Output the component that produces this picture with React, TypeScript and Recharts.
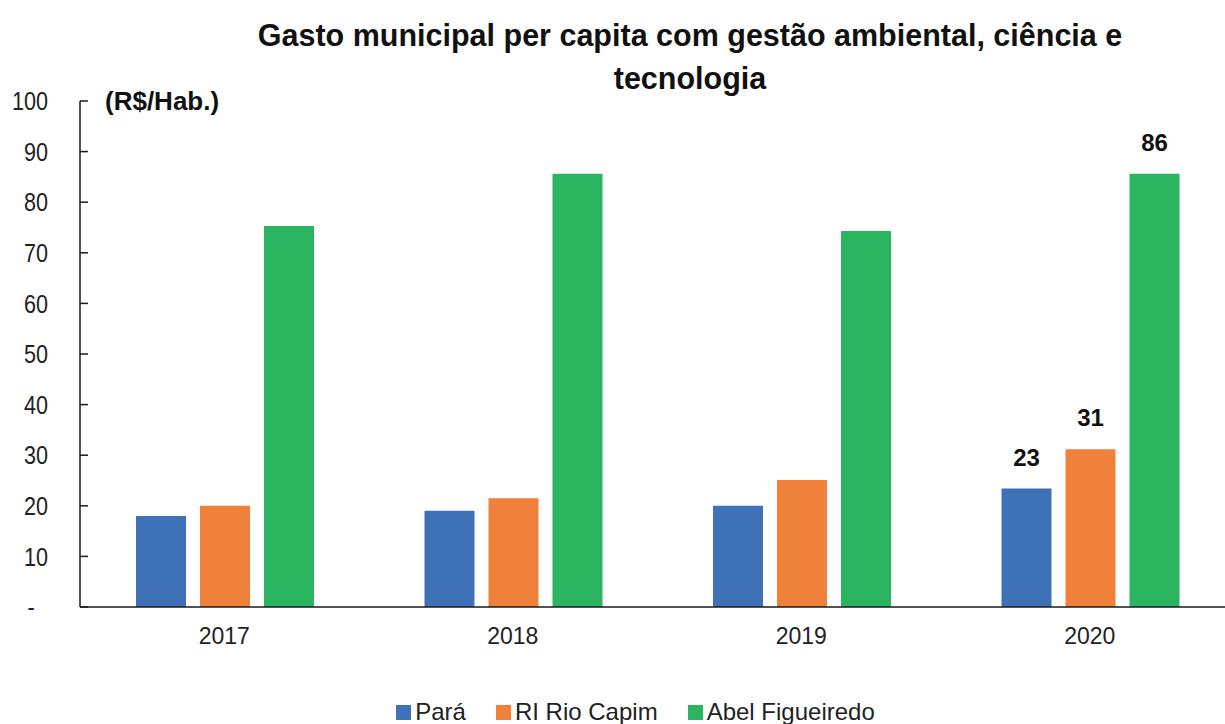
import * as React from "react"
import { BarChart, Bar, XAxis, YAxis, Legend, LabelList } from "recharts"

const years = ["2017", "2018", "2019", "2020"]
const para = [18.0, 19.0, 20.0, 23.4]
const rioCapim = [20.0, 21.5, 25.1, 31.2]
const abel = [75.3, 85.6, 74.3, 85.6]
// only the last year carries a value label
const labelYears = ["2020"]
const yTicks = [0, 10, 20, 30, 40, 50, 60, 70, 80, 90, 100]
const gridTicks = [1, 2, 3]

const series = [
  { key: "para", name: "Pará", color: "#3F71B9" },
  { key: "rio", name: "RI Rio Capim", color: "#F0813B" },
  { key: "abel", name: "Abel Figueiredo", color: "#2BB45F" },
]

const data = years.map((year, i) => ({
  year,
  pos: i + 0.5,
  para: para[i],
  rio: rioCapim[i],
  abel: abel[i],
  paraLbl: labelYears.includes(year) ? Math.round(para[i]) : "",
  rioLbl: labelYears.includes(year) ? Math.round(rioCapim[i]) : "",
  abelLbl: labelYears.includes(year) ? Math.round(abel[i]) : "",
}))

const FONT = "'Liberation Sans', Arial, sans-serif"
const AXIS = "#1a1a1a"

function YTick(props: any) {
  const { x, y, payload } = props
  const zero = payload.value === 0
  // x is where the label ends; the axis line sits 32px to the right
  return (
    <g>
      <line x1={x + 32} x2={x + 40} y1={y} y2={y} stroke={AXIS} strokeWidth={1.5} />
      <text
        transform={`translate(${zero ? x - 17 : x},${y}) scale(0.83,1)`}
        dy="0.35em"
        textAnchor={zero ? "middle" : "end"}
        fontFamily={FONT}
        fontSize={26}
        fill="#222"
      >
        {zero ? "-" : payload.value}
      </text>
    </g>
  )
}

function LegendBox() {
  return (
    <div style={{ display: "flex", justifyContent: "center", gap: 30, fontFamily: FONT, fontSize: 24, color: "#222", paddingLeft: 37 }}>
      {series.map((s) => (
        <div key={s.key} style={{ display: "flex", alignItems: "center", gap: 4 }}>
          <span style={{ width: 15, height: 15, background: s.color, display: "inline-block" }} />
          <span>{s.name}</span>
        </div>
      ))}
    </div>
  )
}

export default function App() {
  return (
    <div style={{ position: "absolute", left: 0, top: 0, width: 1225, height: 724, overflow: "hidden", background: "#fff" }}>
      <div
        style={{
          position: "absolute",
          left: 240,
          width: 900,
          top: 14,
          textAlign: "center",
          fontFamily: FONT,
          fontWeight: "bold",
          fontSize: 30.5,
          lineHeight: "43px",
          color: "#111",
          zIndex: 2,
        }}
      >
        Gasto municipal per capita com gestão ambiental, ciência e tecnologia
      </div>
      <div
        style={{ position: "absolute", left: 105, top: 86, fontFamily: FONT, fontWeight: "bold", fontSize: 26, color: "#111", zIndex: 2 }}
      >
        (R$/Hab.)
      </div>
      <BarChart
        width={1236}
        height={724}
        data={data}
        margin={{ top: 101, right: 2, left: 0, bottom: 0 }}
        barCategoryGap={56}
        barGap={14}
      >
        <XAxis
          xAxisId="grid"
          type="number"
          dataKey="pos"
          domain={[0, 4]}
          ticks={gridTicks}
          allowDataOverflow
          mirror
          height={0}
          tick={false}
          tickSize={8}
          axisLine={false}
          tickLine={{ stroke: AXIS, strokeWidth: 1.5 }}
        />
        <XAxis
          dataKey="year"
          height={80}
          tickLine={false}
          tickMargin={15}
          axisLine={{ stroke: AXIS, strokeWidth: 1.5 }}
          tick={{ fontFamily: FONT, fontSize: 23, fill: "#222" }}
        />
        <YAxis
          width={80}
          domain={[0, 100]}
          ticks={yTicks}
          interval={0}
          tickLine={false}
          tickSize={8}
          tickMargin={24}
          axisLine={{ stroke: AXIS, strokeWidth: 1.5 }}
          tick={<YTick />}
        />
        <Legend verticalAlign="bottom" height={37} wrapperStyle={{ bottom: -11 }} content={<LegendBox />} />
        {series.map((s) => (
          <Bar key={s.key} dataKey={s.key} name={s.name} fill={s.color} isAnimationActive={false}>
            <LabelList
              dataKey={s.key + "Lbl"}
              position="top"
              offset={23}
              style={{ fontFamily: FONT, fontWeight: "bold", fontSize: 24, fill: "#111" }}
            />
          </Bar>
        ))}
      </BarChart>
    </div>
  )
}
